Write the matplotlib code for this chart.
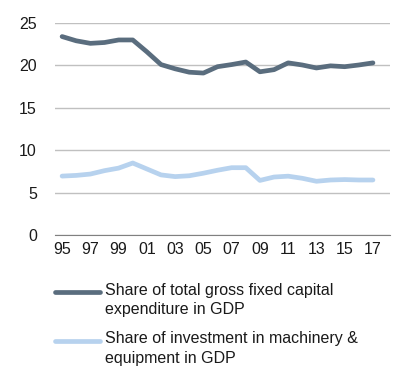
import matplotlib.pyplot as plt
from matplotlib.lines import Line2D

years = list(range(1995, 2018))
total_gfcf = [23.4, 22.9, 22.6, 22.7, 23.0, 23.0, 21.6, 20.1, 19.6, 19.2, 19.1, 19.85,
              20.1, 20.4, 19.25, 19.5, 20.3, 20.05, 19.7, 19.95, 19.85, 20.05, 20.3]
machinery = [6.96, 7.04, 7.2, 7.6, 7.9, 8.5, 7.8, 7.1, 6.9, 7.0, 7.3, 7.65,
             7.95, 7.95, 6.45, 6.85, 6.95, 6.7, 6.35, 6.5, 6.55, 6.5, 6.5]
tick_years = years[::2]
tick_labels = [f"{y % 100:02d}" for y in tick_years]
legend_labels = ["Share of total gross fixed capital\nexpenditure in GDP",
                 "Share of investment in machinery &\nequipment in GDP"]

dark = "#5a6d7e"
light = "#b7d2ee"


def main():
    plt.rcParams["font.family"] = ["Liberation Sans", "DejaVu Sans"]
    fig = plt.figure(figsize=(4.17, 3.83), dpi=100)
    ax = fig.add_axes([0.132, 0.386, 0.803, 0.554])

    ax.plot(years, total_gfcf, color=dark, lw=3.4, solid_capstyle="round")
    ax.plot(years, machinery, color=light, lw=3.4, solid_capstyle="round")

    ax.set_ylim(0, 25)
    ax.set_yticks(range(0, 26, 5))
    ax.set_xlim(1994.5, 2018.2)
    ax.set_xticks(tick_years)
    ax.set_xticklabels(tick_labels)
    ax.grid(axis="y", color="#c0c0c0", lw=1)
    ax.set_axisbelow(True)
    for s in ["top", "right", "left"]:
        ax.spines[s].set_visible(False)
    ax.spines["bottom"].set_color("#808080")
    ax.tick_params(length=0, labelsize=11.5, colors="#1a1a1a")
    ax.tick_params(axis="y", pad=13)
    ax.tick_params(axis="x", pad=5)

    # legend drawn by hand so the line sits on the first text row
    W, H = 417, 383
    for i, (lab, col) in enumerate(zip(legend_labels, [dark, light])):
        yc = 291.5 + i * 49
        fig.add_artist(Line2D([55 / W, 100 / W], [1 - yc / H, 1 - yc / H],
                              color=col, lw=3.4, solid_capstyle="round",
                              transform=fig.transFigure))
        fig.text(105 / W, 1 - (yc - 9) / H, lab, fontsize=11.5, va="top",
                 ha="left", color="#1a1a1a", linespacing=1.4)

    fig.savefig("out.png", dpi=100)


if __name__ == "__main__":
    main()
